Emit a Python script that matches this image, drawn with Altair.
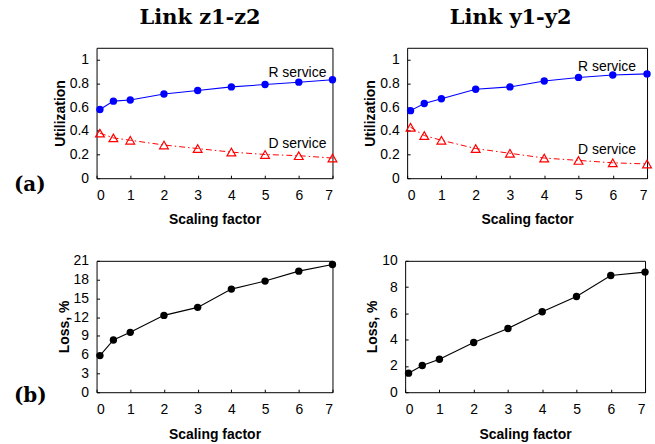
import altair as alt
import pandas as pd

# ---------------- data ----------------
scaling = [0.1, 0.5, 1, 2, 3, 4, 5, 6, 7]

z_r_service = [0.58, 0.65, 0.66, 0.71, 0.74, 0.77, 0.79, 0.81, 0.83]
z_d_service = [0.38, 0.34, 0.32, 0.28, 0.25, 0.22, 0.20, 0.19, 0.17]
y_r_service = [0.57, 0.63, 0.67, 0.75, 0.77, 0.82, 0.85, 0.87, 0.88]
y_d_service = [0.43, 0.36, 0.32, 0.25, 0.21, 0.17, 0.15, 0.13, 0.12]

z_loss = [5.85, 8.35, 9.57, 12.28, 13.56, 16.48, 17.76, 19.35, 20.41]
y_loss = [1.45, 2.03, 2.51, 3.78, 4.85, 6.12, 7.28, 8.88, 9.14]

titles = ["Link z1-z2", "Link y1-y2"]
row_tags = ["(a)", "(b)"]
series_names = ["R service", "D service"]
# label anchor (x, y) in data units, per panel
z_label_x = [6.82, 6.82]
z_label_y = [0.857, 0.252]
y_label_x = [6.68, 6.68]
y_label_y = [0.908, 0.202]

x_ticks = [0, 1, 2, 3, 4, 5, 6, 7]
util_ticks = [0, 0.2, 0.4, 0.6, 0.8, 1.0]
z_loss_ticks = [0, 3, 6, 9, 12, 15, 18, 21]
y_loss_ticks = [0, 2, 4, 6, 8, 10]

SANS = "Liberation Sans"
SERIF = "DejaVu Serif"
BLUE = "#0000ff"
RED = "#ff0000"


def x_enc():
    return alt.X(
        "x:Q",
        scale=alt.Scale(domain=[0, 7], nice=False, zero=False),
        axis=alt.Axis(values=x_ticks, title="Scaling factor", format="d"),
    )


def y_enc(field, domain, ticks, title, fmt):
    return alt.Y(
        f"{field}:Q",
        scale=alt.Scale(domain=domain, nice=False),
        axis=alt.Axis(values=ticks, title=title, format=fmt),
    )


def util_panel(r_vals, d_vals, title, tag, lx, ly, w, h):
    df = pd.DataFrame({"x": scaling, "r": r_vals, "d": d_vals})
    base = alt.Chart(df)
    dom = [0, 1.1]
    yr = y_enc("r", dom, util_ticks, "Utilization", ".1~f")
    yd = y_enc("d", dom, util_ticks, "Utilization", ".1~f")
    r_line = base.mark_line(color=BLUE, strokeWidth=1.1).encode(x=x_enc(), y=yr)
    r_pts = base.mark_circle(color=BLUE, size=55, opacity=1).encode(x=x_enc(), y=yr)
    d_line = base.mark_line(color=RED, strokeWidth=1, strokeDash=[6, 3, 1.5, 3]).encode(x=x_enc(), y=yd)
    d_pts = base.mark_point(shape="triangle-up", color=RED, size=78, filled=False,
                            strokeWidth=1.2, opacity=1).encode(x=x_enc(), y=yd)
    lab_df = pd.DataFrame({"x": lx, "r": ly, "t": series_names})
    labels = alt.Chart(lab_df).mark_text(align="right", baseline="alphabetic", font=SANS,
                                         fontSize=14, color="black").encode(
        x=x_enc(), y=yr, text="t:N")
    layers = [d_line, r_line, d_pts, r_pts, labels]
    ttl = alt.Chart(pd.DataFrame({"t": [title]})).mark_text(
        align="center", baseline="alphabetic", font=SERIF, fontWeight="bold",
        fontSize=21, color="black").encode(x=alt.value(104), y=alt.value(-24), text="t:N")
    layers.append(ttl)
    if tag:
        tg = alt.Chart(pd.DataFrame({"t": [tag]})).mark_text(
            align="left", baseline="middle", font=SERIF, fontWeight="bold",
            fontSize=20, color="black").encode(x=alt.value(-83), y=alt.value(138), text="t:N")
        layers.append(tg)
    return alt.layer(*layers).properties(width=w, height=h)


def loss_panel(vals, dom, ticks, tag, w, h):
    df = pd.DataFrame({"x": scaling, "v": vals})
    base = alt.Chart(df)
    yv = y_enc("v", dom, ticks, "Loss, %", "d")
    line = base.mark_line(color="black", strokeWidth=1.1).encode(x=x_enc(), y=yv)
    pts = base.mark_circle(color="black", size=55, opacity=1).encode(x=x_enc(), y=yv)
    layers = [line, pts]
    if tag:
        tg = alt.Chart(pd.DataFrame({"t": [tag]})).mark_text(
            align="left", baseline="middle", font=SERIF, fontWeight="bold",
            fontSize=20, color="black").encode(x=alt.value(-83), y=alt.value(136), text="t:N")
        layers.append(tg)
    return alt.layer(*layers).properties(width=w, height=h)


a_left = util_panel(z_r_service, z_d_service, titles[0], row_tags[0], z_label_x, z_label_y, 237, 131)
a_right = util_panel(y_r_service, y_d_service, titles[1], None, y_label_x, y_label_y, 241, 131)
b_left = loss_panel(z_loss, [0, 21], z_loss_ticks, row_tags[1], 237, 132)
b_right = loss_panel(y_loss, [0, 10], y_loss_ticks, None, 241, 132)

chart = alt.vconcat(
    alt.hconcat(a_left, a_right, spacing=23),
    alt.hconcat(b_left, b_right, spacing=27),
    spacing=25,
).properties(
    padding={"left": 13, "top": 5, "right": 0, "bottom": 0},
    background="white",
).configure_view(
    stroke="black", strokeWidth=1
).configure_axis(
    domain=False, grid=False, ticks=True, tickSize=3, offset=-3, tickColor="black",
    tickWidth=1, labelFont=SANS, labelFontSize=14, labelColor="black",
    titleFont=SANS, titleFontSize=14, titleFontWeight="bold", titleColor="black",
).configure_axisX(
    labelPadding=10, titlePadding=11
).configure_axisY(
    labelPadding=8, titlePadding=2
)

chart.save("out.html", embed_options={"renderer": "svg", "actions": False})
